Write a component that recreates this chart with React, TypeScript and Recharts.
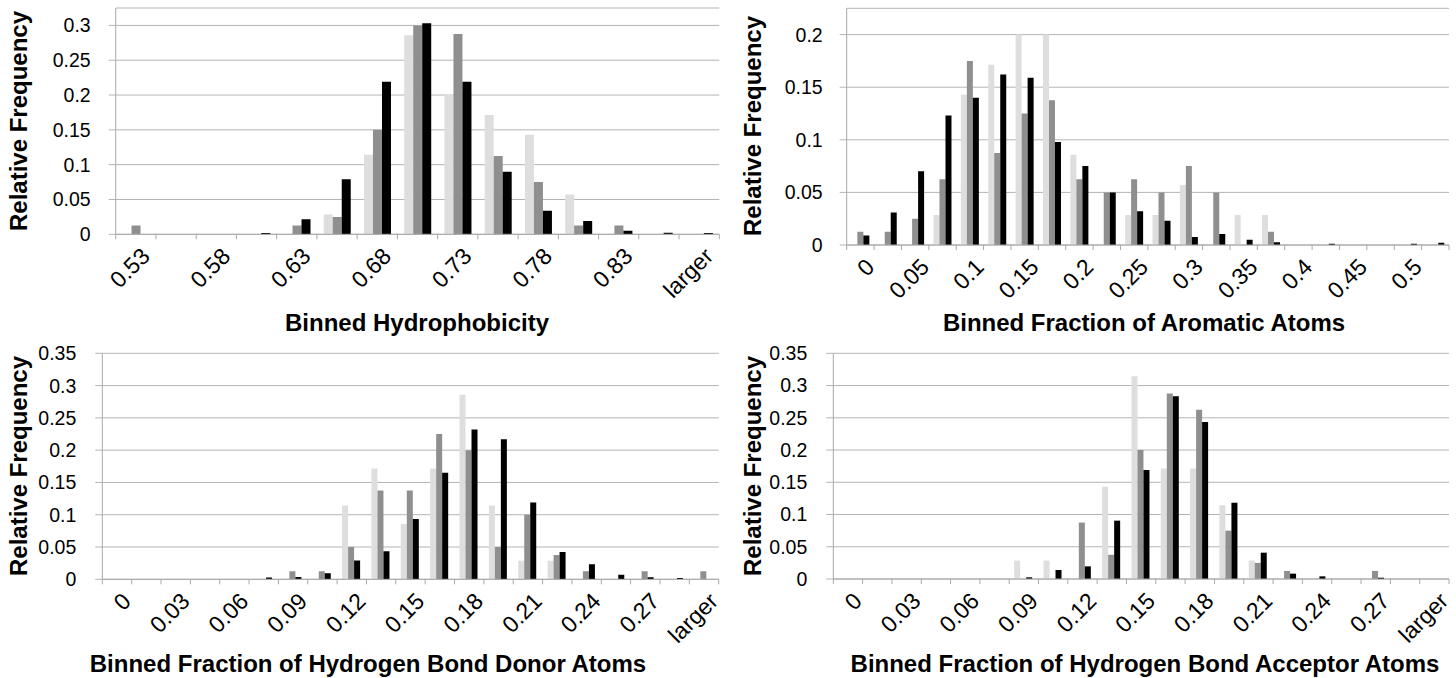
import { BarChart, Bar, XAxis, YAxis, CartesianGrid, Label } from "recharts";

const LIGHT = "#dedede";
const MID = "#8f8f8f";
const DARK = "#000000";
const GRID = "#b4b4b4";
const AXIS = "#a8a8a8";
const FONT = "'Liberation Sans', Arial, sans-serif";

const TICK_SIZE = 5;
const TICK_MARGIN = 6;

// ---- Hydrophobicity
const hydroBins = ["0.53", "0.555", "0.58", "0.605", "0.63", "0.655", "0.68", "0.705", "0.73", "0.755", "0.78", "0.805", "0.83", "0.855", "larger"];
const hydroLight = [0, 0, 0, 0, 0, 0.0286, 0.1143, 0.2857, 0.2, 0.1714, 0.1429, 0.0571, 0, 0, 0];
const hydroMid = [0.0125, 0, 0, 0, 0.0125, 0.025, 0.15, 0.3, 0.2875, 0.1125, 0.075, 0.0125, 0.0125, 0, 0];
const hydroDark = [0, 0, 0, 0.002, 0.0215, 0.079, 0.219, 0.303, 0.219, 0.09, 0.034, 0.019, 0.005, 0.0024, 0.002];
const hydroTicks = [0, 0.05, 0.1, 0.15, 0.2, 0.25, 0.3];

// ---- Aromatic atoms
const aroBins = ["0", "0.025", "0.05", "0.075", "0.1", "0.125", "0.15", "0.175", "0.2", "0.225", "0.25", "0.275", "0.3", "0.325", "0.35", "0.375", "0.4", "0.425", "0.45", "0.475", "0.5", "larger"];
const aroLight = [0, 0, 0, 0.0286, 0.1429, 0.1714, 0.2, 0.2, 0.0857, 0, 0.0286, 0.0286, 0.0571, 0, 0.0286, 0.0286, 0, 0, 0, 0, 0, 0];
const aroMid = [0.0125, 0.0125, 0.025, 0.0625, 0.175, 0.0875, 0.125, 0.1375, 0.0625, 0.05, 0.0625, 0.05, 0.075, 0.05, 0, 0.0125, 0, 0, 0, 0, 0, 0];
const aroDark = [0.009, 0.031, 0.07, 0.123, 0.14, 0.162, 0.159, 0.098, 0.075, 0.05, 0.032, 0.023, 0.0076, 0.0104, 0.005, 0.0025, 0, 0.0013, 0, 0, 0.0013, 0.0022];
const aroTicks = [0, 0.05, 0.1, 0.15, 0.2];

// ---- H-bond donor / acceptor (same bins)
const hbBins = ["0", "0.015", "0.03", "0.045", "0.06", "0.075", "0.09", "0.105", "0.12", "0.135", "0.15", "0.165", "0.18", "0.195", "0.21", "0.225", "0.24", "0.255", "0.27", "0.285", "larger"];
const donorLight = [0, 0, 0, 0, 0, 0, 0, 0, 0.1143, 0.1714, 0.0857, 0.1714, 0.2857, 0.1143, 0.0286, 0.0286, 0, 0, 0, 0, 0];
const donorMid = [0, 0, 0, 0, 0, 0, 0.0125, 0.0125, 0.05, 0.1375, 0.1375, 0.225, 0.2, 0.05, 0.1, 0.0375, 0.0125, 0, 0.0125, 0, 0.0125];
const donorDark = [0, 0, 0, 0, 0, 0.0026, 0.0036, 0.0093, 0.029, 0.0433, 0.0934, 0.165, 0.232, 0.2167, 0.119, 0.0423, 0.0232, 0.0072, 0.0031, 0.002, 0];
const accLight = [0, 0, 0, 0, 0, 0, 0.0286, 0.0286, 0, 0.1429, 0.3143, 0.1714, 0.1714, 0.1143, 0.0286, 0, 0, 0, 0, 0, 0];
const accMid = [0, 0, 0, 0, 0, 0, 0, 0, 0.0875, 0.0375, 0.2, 0.2875, 0.2625, 0.075, 0.025, 0.0125, 0, 0, 0.0125, 0, 0];
const accDark = [0, 0, 0, 0, 0, 0, 0.0026, 0.014, 0.0196, 0.0905, 0.169, 0.2834, 0.2436, 0.1184, 0.0408, 0.0083, 0.0041, 0, 0.002, 0, 0];
const hbTicks = [0, 0.05, 0.1, 0.15, 0.2, 0.25, 0.3, 0.35];

// tick: boundary marks between bins, rotated label on every other bin
function BinTick(props: any) {
  const { x, y, payload, index, visibleTicksCount, half } = props;
  const axisY = y - TICK_SIZE - TICK_MARGIN;
  const ax = x + 4;
  const ay = axisY + 12;
  return (
    <g>
      <line x1={x - half} x2={x - half} y1={axisY} y2={axisY + TICK_SIZE} stroke={AXIS} />
      {index === visibleTicksCount - 1 && (
        <line x1={x + half} x2={x + half} y1={axisY} y2={axisY + TICK_SIZE} stroke={AXIS} />
      )}
      {index % 2 === 0 && (
        <text
          x={ax}
          y={ay}
          dy="0.7em"
          textAnchor="end"
          transform={`rotate(-45, ${ax}, ${ay})`}
          fontSize={23}
          fontFamily={FONT}
          fill="#000"
        >
          {payload.value}
        </text>
      )}
    </g>
  );
}

interface PanelProps {
  left: number;
  top: number;
  bins: string[];
  light: number[];
  mid: number[];
  dark: number[];
  yTicks: number[];
  yMax: number;
  xTitle: string;
  marginTop: number;
  marginRight: number;
  yAxisWidth: number;
  xAxisHeight: number;
  yLabelGap: number;
  xTitleAt: [number, number];
  yTitleAt: [number, number];
}

const W = 728;
const H = 339;

function Panel(p: PanelProps) {
  const data = p.bins.map((bin, i) => ({ bin, a: p.light[i], b: p.mid[i], c: p.dark[i] }));
  const half = (W - p.yAxisWidth - p.marginRight) / p.bins.length / 2;
  return (
    <div style={{ position: "absolute", left: p.left, top: p.top, width: W, height: H }}>
      <BarChart
        width={W}
        height={H}
        data={data}
        margin={{ top: p.marginTop, right: p.marginRight, left: 0, bottom: 0 }}
        barCategoryGap="17%"
        barGap={0}
      >
        <CartesianGrid vertical={false} stroke={GRID} />
        <XAxis
          dataKey="bin"
          interval={0}
          height={p.xAxisHeight}
          tickSize={TICK_SIZE}
          tickMargin={TICK_MARGIN}
          tickLine={false}
          axisLine={{ stroke: AXIS }}
          tick={(t: any) => <BinTick {...t} half={half} />}
        >
          <Label
            content={() => (
              <text
                x={p.xTitleAt[0]}
                y={p.xTitleAt[1]}
                textAnchor="middle"
                dominantBaseline="central"
                fontSize={24}
                fontWeight="bold"
                fontFamily={FONT}
                fill="#000"
              >
                {p.xTitle}
              </text>
            )}
          />
        </XAxis>
        <YAxis
          type="number"
          domain={[0, p.yMax]}
          ticks={p.yTicks}
          interval={0}
          width={p.yAxisWidth}
          tickSize={7}
          tickMargin={p.yLabelGap}
          tickLine={{ stroke: GRID }}
          axisLine={{ stroke: AXIS }}
          allowDataOverflow
          tick={{ fontSize: 19.5, fontFamily: FONT, fill: "#000" }}
        >
          <Label
            content={() => (
              <text
                x={p.yTitleAt[0]}
                y={p.yTitleAt[1]}
                textAnchor="middle"
                dominantBaseline="central"
                transform={`rotate(-90, ${p.yTitleAt[0]}, ${p.yTitleAt[1]})`}
                fontSize={24}
                fontWeight="bold"
                fontFamily={FONT}
                fill="#000"
              >
                Relative Frequency
              </text>
            )}
          />
        </YAxis>
        <Bar dataKey="a" fill={LIGHT} isAnimationActive={false} />
        <Bar dataKey="b" fill={MID} isAnimationActive={false} />
        <Bar dataKey="c" fill={DARK} isAnimationActive={false} />
      </BarChart>
    </div>
  );
}

export default function App() {
  return (
    <div style={{ position: "absolute", left: 0, top: 0, width: 1456, height: 678, background: "#fff" }}>
      <Panel
        left={0}
        top={0}
        bins={hydroBins}
        light={hydroLight}
        mid={hydroMid}
        dark={hydroDark}
        yTicks={hydroTicks}
        yMax={0.325}
        xTitle="Binned Hydrophobicity"
        marginTop={8}
        marginRight={8.7}
        yAxisWidth={115.7}
        xAxisHeight={104.7}
        yLabelGap={18}
        xTitleAt={[417, 322]}
        yTitleAt={[18, 121]}
      />
      <Panel
        left={728}
        top={0}
        bins={aroBins}
        light={aroLight}
        mid={aroMid}
        dark={aroDark}
        yTicks={aroTicks}
        yMax={0.225}
        xTitle="Binned Fraction of Aromatic Atoms"
        marginTop={8.3}
        marginRight={7}
        yAxisWidth={118.7}
        xAxisHeight={94}
        yLabelGap={17}
        xTitleAt={[416, 322]}
        yTitleAt={[24, 126]}
      />
      <Panel
        left={0}
        top={339}
        bins={hbBins}
        light={donorLight}
        mid={donorMid}
        dark={donorDark}
        yTicks={hbTicks}
        yMax={0.35}
        xTitle="Binned Fraction of Hydrogen Bond Donor Atoms"
        marginTop={14.3}
        marginRight={9.3}
        yAxisWidth={102.3}
        xAxisHeight={98.7}
        yLabelGap={19}
        xTitleAt={[368, 324]}
        yTitleAt={[18, 127]}
      />
      <Panel
        left={728}
        top={339}
        bins={hbBins}
        light={accLight}
        mid={accMid}
        dark={accDark}
        yTicks={hbTicks}
        yMax={0.35}
        xTitle="Binned Fraction of Hydrogen Bond Acceptor Atoms"
        marginTop={14.3}
        marginRight={7}
        yAxisWidth={105.3}
        xAxisHeight={99}
        yLabelGap={19}
        xTitleAt={[417, 324]}
        yTitleAt={[24, 127]}
      />
    </div>
  );
}
